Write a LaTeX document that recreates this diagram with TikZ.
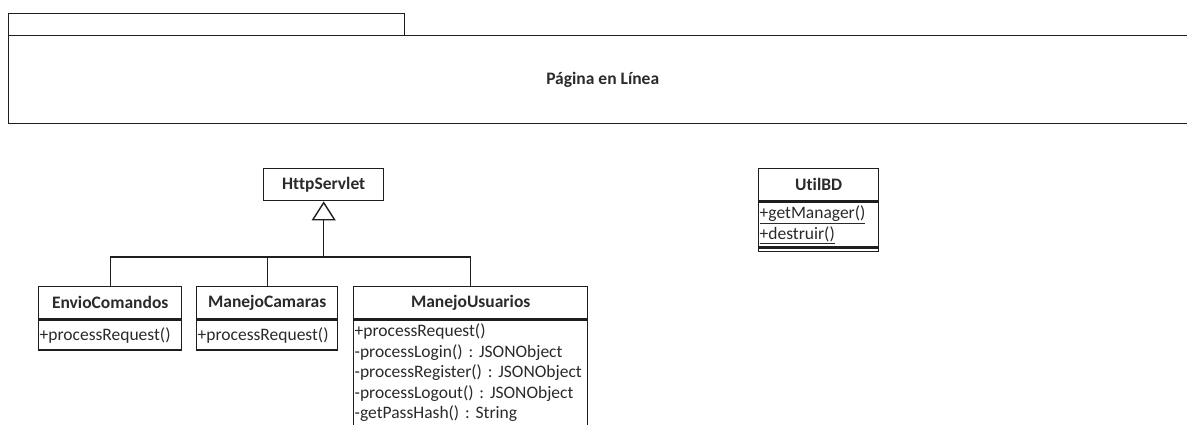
\documentclass[tikz,border=0pt]{standalone}
\usepackage{fontspec}
\setmainfont{Carlito}[Ligatures=NoCommon]
\usetikzlibrary{arrows.meta}
\definecolor{ink}{HTML}{1E1E1E}
\definecolor{txt}{HTML}{2A2A2A}
\frenchspacing
\begin{document}
\begin{tikzpicture}[x=1pt,y=-1pt,
  frame/.style={draw=ink, line width=1.4pt, inner sep=0pt, anchor=north west},
  clsname/.style={frame, font=\bfseries\fontsize{17.5}{20}\selectfont, text=txt, minimum height=32},
  clsops/.style={frame, font=\fontsize{17.5}{20.5}\selectfont, text=txt, align=left, inner xsep=1pt, inner ysep=0pt},
  link/.style={draw=ink, line width=1.4pt},
  inherit/.style={link, -{Triangle[open, length=19pt, width=24pt, line width=1.4pt]}}
]
\useasboundingbox (0,0) rectangle (1187,424);

% package "Página en Línea": tab and body (body runs past the right edge)
\node[frame, minimum width=396, minimum height=22] (tab) at (8,13) {};
\node[frame, minimum width=1188, minimum height=88,
      font=\bfseries\fontsize{17.5}{20}\selectfont, text=txt] (pkg) at (8,35) {Página en Línea};

% superclass
\node[clsname, minimum width=120] (hs) at (263,168) {HttpServlet};

% EnvioComandos
\node[clsname, minimum width=143] (ec) at (38,286) {EnvioComandos};
\node[clsops, text width=141, minimum height=30] (ecops) at (ec.south west) {+processRequest()};

% ManejoCamaras
\node[clsname, minimum width=141] (mc) at (196,286) {ManejoCamaras};
\node[clsops, text width=139, minimum height=30] (mcops) at (mc.south west) {+processRequest()};

% ManejoUsuarios
\node[clsname, minimum width=234] (mu) at (353,286) {ManejoUsuarios};
\node[clsops, text width=232, inner ysep=4pt] (muops) at (mu.south west)
  {+processRequest()\\
   -processLogin() : JSONObject\\
   -processRegister() : JSONObject\\
   -processLogout() : JSONObject\\
   -getPassHash() : String\\[4pt]};

% UtilBD with static operations and an empty compartment
\node[clsname, minimum width=120] (ub) at (758,168) {UtilBD};
\node[clsops, text width=118, minimum height=45] (ubops) at (ub.south west)
  {\underline{+getManager()}\\ \underline{+destruir()}};
\node[frame, minimum width=120, minimum height=3] (ubattr) at (ubops.south west) {};

% generalisation tree
\coordinate (j) at (hs.south |- 0,257);
\draw[link] (ec.north) |- (j);
\draw[link] (mc.north) |- (j);
\draw[link] (mu.north) |- (j);
\draw[inherit] (j) -- (hs.south);
\end{tikzpicture}
\end{document}
